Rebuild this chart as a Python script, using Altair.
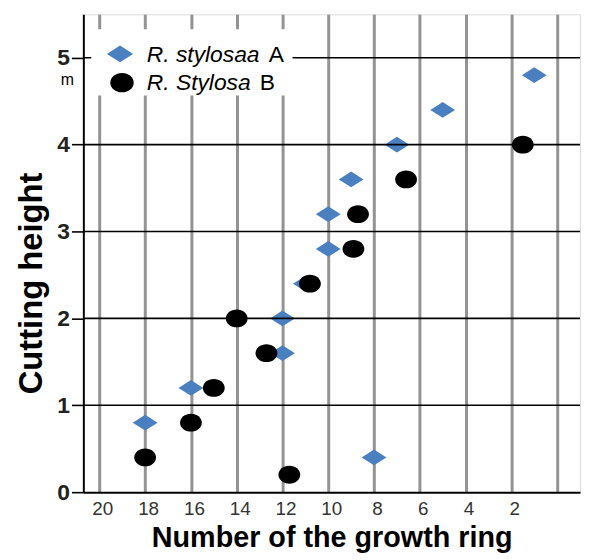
import altair as alt
import pandas as pd

# --- data ---
a_ring = [18, 16, 12, 12, 11, 10, 10, 9, 7, 5, 1, 8]
a_height = [0.8, 1.2, 2.0, 1.6, 2.4, 2.8, 3.2, 3.6, 4.0, 4.4, 4.8, 0.4]
b_ring = [18, 16, 15, 14, 12.7, 11.7, 10.8, 8.9, 8.7, 6.6, 1.5]
b_height = [0.4, 0.8, 1.2, 2.0, 1.6, 0.2, 2.4, 2.8, 3.2, 3.6, 4.0]
species_italic = ["R. stylosaa", "R. Stylosa"]
species_suffix = ["A", "B"]
x_ticks = [20, 18, 16, 14, 12, 10, 8, 6, 4, 2, 0]
y_ticks = [0, 1, 2, 3, 4, 5]
h_lines = [1, 2, 3, 4, 5]

FONT = "Liberation Sans"
BLUE = "#4a7fc0"
DIAMOND = "M-1,0L0,-0.64L1,0L0,0.64Z"
ELLIPSE = "M-1,0A1,0.82,0,1,1,1,0A1,0.82,0,1,1,-1,0Z"

df_a = pd.DataFrame({"ring": a_ring, "height": a_height})
df_b = pd.DataFrame({"ring": b_ring, "height": b_height})
df_h = pd.DataFrame({"h": h_lines})

xscale = alt.Scale(domain=[-1, 20.7], reverse=True, nice=False, zero=False)
yscale = alt.Scale(domain=[0, 5.5], nice=False, zero=False)

xaxis = alt.Axis(
    values=x_ticks,
    labelExpr="datum.value == 0 ? '' : datum.label",
    grid=True, gridColor="#939393", gridWidth=3,
    ticks=False, domainColor="black", domainWidth=2,
    labelFont=FONT, labelFontSize=19, labelColor="#333333", labelPadding=8,
    labelOffset=3,
    title="Number of the growth ring", titleFont=FONT, titleFontSize=29,
    titleFontWeight="bold", titleColor="black", titleY=46, titleBaseline="middle",
)
yaxis = alt.Axis(
    values=y_ticks, format="d", grid=False,
    ticks=True, tickSize=12, tickColor="black", tickWidth=1.6,
    domainColor="black", domainWidth=2,
    labelFont=FONT, labelFontSize=23, labelFontWeight="bold", labelColor="#222222",
    labelPadding=2,
    title="Cutting height", titleFont=FONT, titleFontSize=33, titleFontWeight="bold",
    titleColor="black", titleX=-52, titleY=271, titleAngle=270,
    titleAlign="center", titleBaseline="middle",
)

diamonds = alt.Chart(df_a).mark_point(
    shape=DIAMOND, filled=True, color=BLUE, size=625, opacity=1
).encode(
    x=alt.X("ring:Q", scale=xscale, axis=xaxis),
    y=alt.Y("height:Q", scale=yscale, axis=yaxis),
)

hrules = alt.Chart(df_h).mark_rule(color="black", strokeWidth=1.6).encode(
    y=alt.Y("h:Q", scale=yscale)
)

circles = alt.Chart(df_b).mark_point(
    shape=ELLIPSE, filled=True, color="black", size=484, opacity=1
).encode(
    x=alt.X("ring:Q", scale=xscale),
    y=alt.Y("height:Q", scale=yscale),
)

one = pd.DataFrame({"k": [0]})
legend_box = alt.Chart(one).mark_rect(fill="white", stroke=None).encode(
    x=alt.value(8), x2=alt.value(211), y=alt.value(15), y2=alt.value(82)
)
leg_diamond = alt.Chart(one).mark_point(
    shape=DIAMOND, filled=True, color=BLUE, size=700, opacity=1
).encode(x=alt.value(37), y=alt.value(40))
leg_circle = alt.Chart(one).mark_point(
    shape=ELLIPSE, filled=True, color="black", size=560, opacity=1
).encode(x=alt.value(39), y=alt.value(69))

leg_texts = []
suffix_x = [187, 178]
for i in range(2):
    d = pd.DataFrame({"t": [species_italic[i]], "s": [species_suffix[i]]})
    yy = 41 + 28 * i
    leg_texts.append(
        alt.Chart(d).mark_text(
            font=FONT, fontSize=23, fontStyle="italic", align="left",
            baseline="middle", color="black"
        ).encode(x=alt.value(64), y=alt.value(yy), text="t:N")
    )
    leg_texts.append(
        alt.Chart(d).mark_text(
            font=FONT, fontSize=23, align="left", baseline="middle", color="black"
        ).encode(x=alt.value(suffix_x[i]), y=alt.value(yy), text="s:N")
    )

unit = alt.Chart(pd.DataFrame({"u": ["m"]})).mark_text(
    font=FONT, fontSize=16, align="center", baseline="middle", color="black"
).encode(x=alt.value(-16), y=alt.value(66), text="u:N")

chart = alt.layer(
    diamonds, hrules, circles, legend_box, leg_diamond, leg_circle, *leg_texts, unit
).properties(
    width=501, height=482,
    autosize=alt.AutoSizeParams(type="none"),
    padding={"left": 76, "top": 4, "right": 2, "bottom": 60},
).configure_view(stroke=None).configure(background="white")

chart.save("out.html", embed_options={"renderer": "svg", "actions": False})
